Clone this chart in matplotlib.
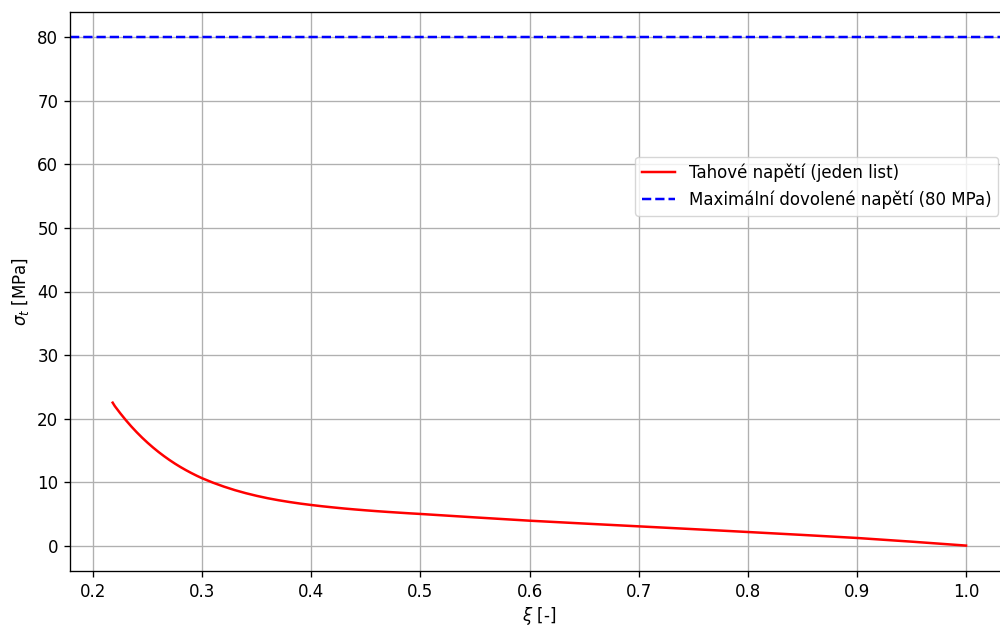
import matplotlib
matplotlib.use("Agg")
import matplotlib.pyplot as plt

xi = [0.218, 0.22, 0.225, 0.23, 0.235, 0.24, 0.245, 0.25, 0.255, 0.26,
      0.265, 0.27, 0.275, 0.28, 0.285, 0.29, 0.295, 0.30,
      0.31, 0.32, 0.33, 0.34, 0.35, 0.36, 0.37, 0.38, 0.39, 0.40,
      0.41, 0.42, 0.43, 0.44, 0.45, 0.46, 0.47, 0.48, 0.49, 0.50,
      0.55, 0.60, 0.65, 0.70, 0.75, 0.80, 0.85, 0.90, 0.95, 1.00]
sigma_t = [22.5, 21.95, 20.82, 19.76, 18.77, 17.85, 16.99, 16.19, 15.44, 14.74,
           14.09, 13.48, 12.91, 12.38, 11.89, 11.43, 11.0, 10.6,
           9.9, 9.28, 8.73, 8.25, 7.83, 7.46, 7.14, 6.86, 6.61, 6.39,
           6.19, 6.01, 5.84, 5.69, 5.55, 5.42, 5.30, 5.19, 5.08, 4.98,
           4.44, 3.92, 3.47, 3.03, 2.59, 2.14, 1.68, 1.20, 0.62, 0.0]
sigma_max = 80

label_stress = "Tahové napětí (jeden list)"
label_max = "Maximální dovolené napětí (80 MPa)"

s = 1.2
plt.rcParams.update({
    "font.size": 10 * s,
    "lines.linewidth": 1.5 * s,
    "axes.linewidth": 0.8 * s,
    "grid.linewidth": 0.8 * s,
    "xtick.major.size": 3.5 * s,
    "ytick.major.size": 3.5 * s,
    "xtick.major.width": 0.8 * s,
    "ytick.major.width": 0.8 * s,
    "xtick.major.pad": 3.5 * s,
    "ytick.major.pad": 3.5 * s,
    "axes.labelpad": 4.0 * s,
})

fig = plt.figure(figsize=(10, 6.27), dpi=100)
ax = fig.add_axes([0.07, 1 - 571 / 627, 0.9387, 559 / 627])

ax.plot(xi, sigma_t, color="red", linestyle="-", label=label_stress)
ax.axhline(sigma_max, color="blue", linestyle="--", label=label_max)

ax.set_xlabel(r"$\xi$ [-]", labelpad=3.0)
ax.set_ylabel(r"$\sigma_t$ [MPa]")
ax.grid(True)
ax.legend(loc="upper right", bbox_to_anchor=(0.998, 1 - 157 / 627),
          bbox_transform=fig.transFigure, borderaxespad=0)

fig.savefig("out.png", dpi=100)
